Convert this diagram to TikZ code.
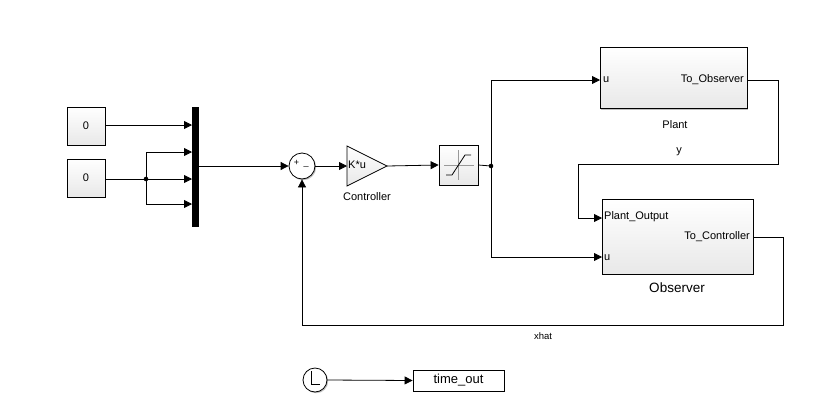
\documentclass[tikz,border=0pt]{standalone}
\usepackage{fontspec}
\setmainfont{Liberation Sans}
\usetikzlibrary{arrows.meta,shadows}
\begin{document}
\begin{tikzpicture}[x=1pt,y=-1pt,font=\fontsize{11}{13}\selectfont,
  wire/.style={line width=0.8pt,-{Triangle[length=8pt,width=8pt]}},
  line/.style={line width=0.8pt},
  blk/.style={draw,line width=0.8pt,top color=white,bottom color=black!9,drop shadow={shadow xshift=1.2pt,shadow yshift=-1.2pt,opacity=0.5},inner sep=0pt},
  lbl/.style={inner sep=0pt}]
\useasboundingbox (0,0) rectangle (830,408);
% constants
\node[blk,minimum width=38pt,minimum height=38pt] (c1) at (86,126) {0};
\node[blk,minimum width=38pt,minimum height=38pt] (c2) at (86,178) {0};
% mux
\node[draw,fill=black,minimum width=6pt,minimum height=119pt,inner sep=0pt] (mux) at (195,166.5) {};
\coordinate (m1) at (192,125);
\coordinate (m2) at (192,152);
\coordinate (m3) at (192,179);
\coordinate (m4) at (192,204);
\coordinate (br) at (146,179);
\draw[wire] (c1.east|-m1) -- (m1);
\draw[line] (c2.east|-br) -- (br);
\fill (br) circle (2.3pt);
\draw[wire] (br) |- (m2);
\draw[wire] (br) -- (m3);
\draw[wire] (br) |- (m4);
% sum
\node[draw,circle,minimum size=26pt,inner sep=0pt,line width=0.8pt,fill=white,drop shadow={shadow xshift=1.2pt,shadow yshift=-1.2pt,opacity=0.5}] (sum) at (302,166) {};
\node[lbl,font=\fontsize{9}{10}\selectfont] at (296.5,163) {+};
\node[lbl,font=\fontsize{9}{10}\selectfont] at (306,166) {\_};
\draw[wire] (mux.east|-sum) -- (sum.west);
% gain
\draw[line,top color=white,bottom color=black!9] (347,146) -- (387,166) -- (347,186) -- cycle;
\coordinate (gin) at (347,166);
\coordinate (gout) at (387,166);
\node[lbl,anchor=west] (gtext) at (348,165) {K*u};
\node[lbl] (ctl) at (367,197) {Controller};
\draw[wire] (sum.east) -- (gin);
% saturation
\node[blk,minimum width=39pt,minimum height=40pt] (sat) at (458.5,165) {};
\draw[black!40,line width=0.3pt] (444,165)--(474,165) (458.5,150)--(458.5,180);
\draw[line] (446,175)--(452,175)--(465,155)--(471,155);
\draw[wire] (gout) -- (sat.west);
\coordinate (bd) at (491,166);
\draw[line] (sat.east) -- (bd);
\fill (bd) circle (2.3pt);
% plant
\node[blk,minimum width=147pt,minimum height=61pt] (plant) at (673.5,78) {};
\coordinate (pu) at (600,80);
\node[lbl,anchor=west] at (603,80) {u};
\node[lbl,anchor=east] at (744,80) {To\_Observer};
\node[lbl] at (675,125) {Plant};
\draw[wire] (bd) |- (pu);
% observer
\node[blk,minimum width=151pt,minimum height=75pt] (obs) at (677.5,236.5) {};
\coordinate (op) at (602,218);
\coordinate (ou) at (602,257);
\node[lbl,anchor=west] at (604,217) {Plant\_Output};
\node[lbl,anchor=west] at (604,258) {u};
\node[lbl,anchor=east] at (750,237) {To\_Controller};
\node[lbl,font=\fontsize{13.5}{15}\selectfont] at (677,288) {Observer};
\draw[wire] (bd) |- (ou);
\draw[wire] (plant.east|-pu) -| (778,164) -| (578,218) -- (op);
\node[lbl] at (679,152) {y};
\draw[wire] (obs.east|-0,237) -| (783,325) -| (sum.south);
\node[lbl,font=\fontsize{9.5}{11}\selectfont] at (543,336) {xhat};
% clock
\node[draw,circle,minimum size=24pt,inner sep=0pt,line width=0.8pt,fill=white,drop shadow={shadow xshift=1.2pt,shadow yshift=-1.2pt,opacity=0.5}] (clk) at (315,380) {};
\draw[line] (311,371) -- (311,384) -- (320,384);
\node[blk,minimum width=91pt,minimum height=21pt,fill=white,top color=white,bottom color=white,font=\fontsize{13}{15}\selectfont] (tout) at (458.5,380.5) {time\_out};
\draw[wire] (clk.east) -- (tout.west);
\end{tikzpicture}
\end{document}
